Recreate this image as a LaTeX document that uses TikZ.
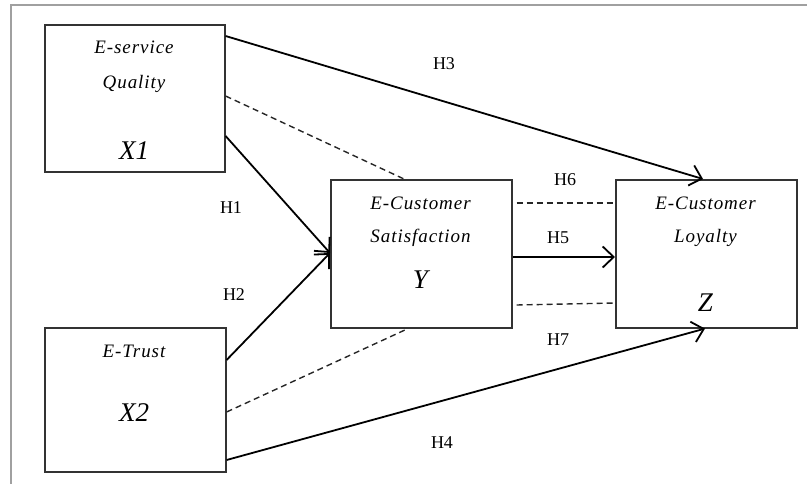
\documentclass[tikz,border=0pt]{standalone}
\usepackage{fontspec}
\setmainfont{Liberation Serif}
\newfontfamily\boxfont[LetterSpace=5]{Liberation Serif}
\usetikzlibrary{arrows.meta,calc}
\definecolor{framegrey}{HTML}{A0A0A0}
\definecolor{boxline}{HTML}{333333}
\tikzset{
  x=1pt, y=-1pt,
  box/.style={draw=boxline, line width=1.6pt, rectangle, inner sep=0pt},
  boxtxt/.style={font=\boxfont\itshape\fontsize{19}{19}\selectfont, inner sep=0pt},
  vartxt/.style={font=\itshape\fontsize{27}{27}\selectfont, inner sep=0pt},
  hlabel/.style={font=\fontsize{18}{18}\selectfont, inner sep=0pt},
  arr/.style={draw=black, line width=1.8pt, -{Straight Barb[length=11pt,width=21pt,line width=1.8pt]}},
  dashline/.style={draw=black!85, line width=1.4pt, dash pattern=on 6pt off 4pt},
}
\begin{document}
\begin{tikzpicture}
\useasboundingbox (0,0) rectangle (807,484);
% outer frame (partial)
\draw[framegrey, line width=1.3pt] (11,484) -- (11,5) -- (807,5);

% boxes
\node[box, minimum width=180pt, minimum height=147pt, anchor=north west] (x1) at (44,24) {};
\node[box, minimum width=181pt, minimum height=144pt, anchor=north west] (x2) at (44,327) {};
\node[box, minimum width=181pt, minimum height=148pt, anchor=north west] (y) at (330,179) {};
\node[box, minimum width=181pt, minimum height=148pt, anchor=north west] (z) at (615,179) {};

% box texts
\node[boxtxt] (x1a) at (134,47) {E-service};
\node[boxtxt] (x1b) at (134,84) {Quality};
\node[vartxt] (x1c) at (134,151) {X1};
\node[boxtxt] (x2a) at (134,351) {E-Trust};
\node[vartxt] (x2c) at (134,413) {X2};
\node[boxtxt] (ya) at (420.5,203) {E-Customer};
\node[boxtxt] (yb) at (420.5,238) {Satisfaction};
\node[vartxt] (yc) at (420.5,280) {Y};
\node[boxtxt] (za) at (705.5,203) {E-Customer};
\node[boxtxt] (zb) at (705.5,238) {Loyalty};
\node[vartxt] (zc) at (705.5,303) {Z};

% connectors
\draw[arr] ([yshift=-12pt]x1.north east) -- ([xshift=88pt]z.north west);
\draw[dashline] ([yshift=-72pt]x1.north east) -- ([xshift=74pt]y.north west);
\draw[arr] ([yshift=-112pt]x1.north east) -- ([yshift=-74pt]y.north west);
\draw[arr] ([yshift=-33pt]x2.north east) -- ([yshift=-74pt]y.north west);
\draw[dashline] ([yshift=-85pt]x2.north east) -- ([xshift=78pt]y.south west);
\draw[arr] ([yshift=-133pt]x2.north east) -- ([xshift=90pt]z.south west);
\draw[arr] ([yshift=-78pt]y.north east) -- ([yshift=-78pt]z.north west);
\draw[dashline] ([xshift=4pt,yshift=-24pt]y.north east) -- ([yshift=-24pt]z.north west);
\draw[dashline] ([xshift=4pt,yshift=-126pt]y.north east) -- ([yshift=-124pt]z.north west);

% hypothesis labels
\node[hlabel] (h1) at (231,208) {H1};
\node[hlabel] (h2) at (234,295) {H2};
\node[hlabel] (h3) at (444,64) {H3};
\node[hlabel] (h4) at (442,443) {H4};
\node[hlabel] (h5) at (558,238) {H5};
\node[hlabel] (h6) at (565,180) {H6};
\node[hlabel] (h7) at (558,340) {H7};
\end{tikzpicture}
\end{document}
